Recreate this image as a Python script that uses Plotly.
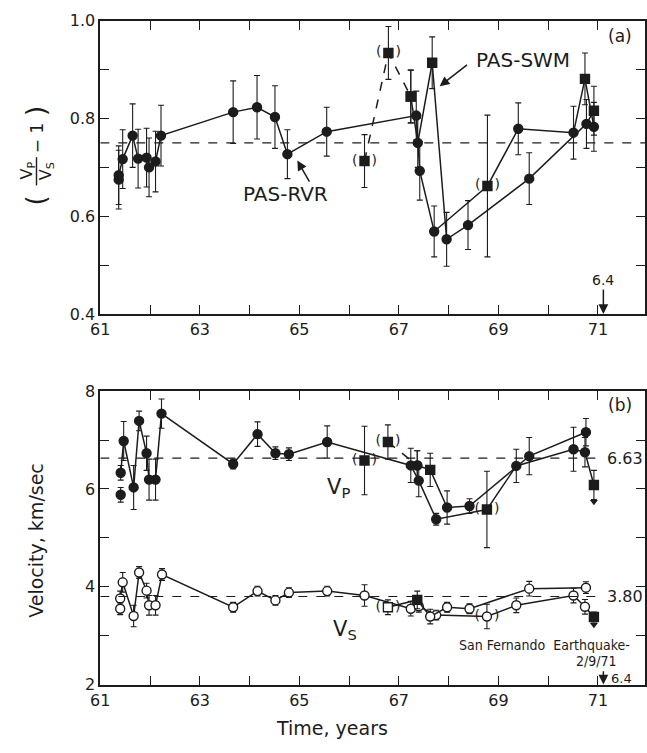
import plotly.graph_objects as go

# ---------------- data: panel (a)  (Vp/Vs - 1) ----------------
rvr_t = [61.37, 61.37, 61.45, 61.65, 61.76, 61.93, 61.98, 62.11, 62.22, 63.67, 64.15,
         64.51, 64.76, 65.55, 67.35, 67.42, 67.71, 68.78, 69.40, 70.51, 70.74, 70.92]
rvr_r = [0.675, 0.684, 0.717, 0.765, 0.718, 0.720, 0.700, 0.712, 0.765, 0.813, 0.823,
         0.803, 0.727, 0.773, 0.806, 0.693, 0.569, 0.662, 0.779, 0.771, 0.881, 0.783]
rvr_e = [0.060, 0.060, 0.060, 0.065, 0.060, 0.060, 0.060, 0.062, 0.062, 0.064, 0.065,
         0.064, 0.050, 0.050, 0.050, 0.060, 0.052, 0.145, 0.053, 0.054, 0.053, 0.050]
rvr_sym = ["circle"] * 17 + ["square", "circle", "circle", "square", "circle"]
rvr_paren = [68.78]

swm_t = [66.31, 66.79, 67.24, 67.38, 67.67, 67.96, 68.39, 69.62, 70.77, 70.92]
swm_r = [0.713, 0.934, 0.845, 0.750, 0.914, 0.553, 0.582, 0.677, 0.789, 0.816]
swm_e = [0.054, 0.054, 0.054, 0.050, 0.053, 0.055, 0.050, 0.053, 0.050, 0.050]
swm_sym = ["square", "square", "square", "circle", "square", "circle", "circle",
           "circle", "circle", "square"]
swm_paren = [66.31, 66.79]
ratio_mean = 0.75

# ---------------- data: panel (b)  velocities ----------------
vp_a_t = [61.41, 61.47, 61.67, 61.78, 61.93, 61.98, 62.11, 62.23, 63.67, 64.16, 64.52,
          64.79, 65.56, 67.24, 67.40, 67.75, 68.77, 69.36, 70.51, 70.74, 70.92]
vp_a = [6.33, 6.98, 6.03, 7.39, 6.73, 6.19, 6.19, 7.54, 6.51, 7.12, 6.73,
        6.71, 6.96, 6.48, 6.17, 5.38, 5.58, 6.47, 6.81, 6.75, 6.08]
vp_a_e = [0.15, 0.40, 0.45, 0.20, 0.35, 0.42, 0.42, 0.30, 0.10, 0.25, 0.13,
          0.13, 0.33, 0.35, 0.33, 0.12, 0.78, 0.34, 0.45, 0.30, 0.30]
vp_a_sym = ["circle"] * 16 + ["square"] + ["circle"] * 3 + ["square"]
vp_extra_t = [61.41, 66.31]
vp_extra = [5.88, 6.58]
vp_extra_e = [0.15, 0.70]

vp_b_t = [66.78, 67.37, 67.63, 67.97, 68.42, 69.62, 70.76]
vp_b = [6.96, 6.48, 6.39, 5.62, 5.65, 6.67, 7.16]
vp_b_e = [0.35, 0.30, 0.34, 0.34, 0.15, 0.38, 0.28]
vp_b_sym = ["square", "circle", "square", "circle", "circle", "circle", "circle"]
vp_paren = [(66.31, 6.58), (66.78, 6.96), (68.77, 5.58)]
vp_mean = 6.63

vs_a_t = [61.40, 61.45, 61.67, 61.78, 61.93, 61.98, 62.11, 62.24, 63.67, 64.16, 64.52,
          64.79, 65.56, 66.31, 67.24, 67.40, 67.75, 68.77, 69.36, 70.51, 70.74, 70.92]
vs_a = [3.76, 4.09, 3.40, 4.29, 3.92, 3.62, 3.62, 4.25, 3.58, 3.91, 3.72,
        3.88, 3.91, 3.82, 3.55, 3.60, 3.42, 3.39, 3.62, 3.82, 3.59, 3.38]
vs_a_e = [0.15, 0.20, 0.22, 0.12, 0.15, 0.20, 0.20, 0.12, 0.10, 0.10, 0.10,
          0.10, 0.10, 0.22, 0.15, 0.12, 0.10, 0.25, 0.15, 0.15, 0.15, 0.10]
vs_a_sym = ["circle-open"] * 21 + ["square"]
vs_extra_t = [61.40]
vs_extra = [3.55]
vs_extra_e = [0.12]

vs_b_t = [66.78, 67.37, 67.63, 67.97, 68.42, 69.62, 70.76]
vs_b = [3.58, 3.73, 3.39, 3.58, 3.55, 3.96, 3.98]
vs_b_e = [0.15, 0.18, 0.15, 0.10, 0.10, 0.15, 0.12]
vs_b_sym = ["square-open", "square", "circle-open", "circle-open", "circle-open",
            "circle-open", "circle-open"]
vs_paren = [(66.78, 3.58), (68.77, 3.39)]
vs_mean = 3.80

# open-ended (lower-bound) points at the end of the record
arrow_t = [70.92, 70.92]
arrow_v = [5.74, 3.22]

quake_t = 71.11
year_ticks = list(range(61, 72))
year_labels = [str(y) if y % 2 == 1 else "" for y in year_ticks]
ratio_ticks = [0.4, 0.5, 0.6, 0.7, 0.8, 0.9, 1.0]
ratio_labels = ["0.4", "", "0.6", "", "0.8", "", "1.0"]
vel_ticks = [2, 3, 4, 5, 6, 7, 8]
vel_labels = ["2", "", "4", "", "6", "", "8"]

INK = "#1c1c1c"
FONT = "DejaVu Sans"
NARROW = "DejaVu Sans Condensed, Liberation Sans Narrow, DejaVu Sans"
W, H = 647, 753
PX_PER_YEAR = 50.7


def px(x):
    return x / W


def py(y):
    return 1 - y / H


fig = go.Figure()


def series(t, v, e, sym, xa, ya, dash="solid", mode="lines+markers"):
    colors = ["white" if s.endswith("open") else INK for s in sym]
    fig.add_trace(go.Scatter(
        x=t, y=v, mode=mode, xaxis=xa, yaxis=ya, showlegend=False,
        line=dict(color=INK, width=1.5, dash=dash),
        marker=dict(symbol=[s.replace("-open", "") for s in sym], size=9,
                    color=colors, line=dict(color=INK, width=1.4)),
        error_y=dict(type="data", array=e, visible=True, color=INK,
                     thickness=1.1, width=3),
    ))


def parens(pts, xa, ya):
    fig.add_trace(go.Scatter(
        x=[p[0] for p in pts], y=[p[1] for p in pts], mode="text",
        text=["(\u2009\u2009\u2009\u2009\u2009)"] * len(pts), xaxis=xa, yaxis=ya,
        textposition="middle center",
        textfont=dict(family=FONT, size=14, color=INK), showlegend=False,
        hoverinfo="skip"))


# ---- panel (a) ----
series(rvr_t, rvr_r, rvr_e, rvr_sym, "x", "y")
series(swm_t[:3], swm_r[:3], swm_e[:3], swm_sym[:3], "x", "y", dash="dash")
series(swm_t[2:], swm_r[2:], swm_e[2:], swm_sym[2:], "x", "y")
parens([(t, swm_r[swm_t.index(t)]) for t in swm_paren] +
       [(t, rvr_r[rvr_t.index(t)]) for t in rvr_paren], "x", "y")

# ---- panel (b) ----
series(vp_a_t, vp_a, vp_a_e, vp_a_sym, "x2", "y2")
series(vp_extra_t, vp_extra, vp_extra_e, ["circle", "square"], "x2", "y2", mode="markers")
series(vp_b_t[:2], vp_b[:2], vp_b_e[:2], vp_b_sym[:2], "x2", "y2", dash="dash")
series(vp_b_t[1:], vp_b[1:], vp_b_e[1:], vp_b_sym[1:], "x2", "y2")
parens(vp_paren, "x2", "y2")

series(vs_a_t, vs_a, vs_a_e, vs_a_sym, "x2", "y2")
series(vs_extra_t, vs_extra, vs_extra_e, ["circle-open"], "x2", "y2", mode="markers")
series(vs_b_t, vs_b, vs_b_e, vs_b_sym, "x2", "y2")
parens(vs_paren, "x2", "y2")

fig.add_trace(go.Scatter(x=arrow_t, y=arrow_v, mode="markers", xaxis="x2", yaxis="y2",
                         marker=dict(symbol="triangle-down", size=7, color=INK),
                         showlegend=False, hoverinfo="skip"))

# ---- mean levels ----
x_end = 61 + (W - 92) / PX_PER_YEAR
fig.add_shape(type="line", xref="x", yref="y", x0=61, x1=x_end, y0=ratio_mean,
              y1=ratio_mean, line=dict(color=INK, width=1.2, dash="dash"))
for m in (vp_mean, vs_mean):
    fig.add_shape(type="line", xref="x2", yref="y2", x0=61, x1=71.05, y0=m, y1=m,
                  line=dict(color=INK, width=1.2, dash="dash"))

axis_common = dict(showline=True, linecolor=INK, linewidth=1.8, ticks="inside",
                   ticklen=9, tickwidth=1.3, tickcolor=INK, mirror="ticks",
                   showgrid=False, zeroline=False,
                   tickfont=dict(family=FONT, size=16, color=INK))

fig.update_layout(
    width=W, height=H, margin=dict(l=0, r=0, t=0, b=0),
    paper_bgcolor="white", plot_bgcolor="white",
    xaxis=dict(domain=[px(92), 1], range=[61, x_end], anchor="y",
               tickvals=year_ticks, ticktext=year_labels, **axis_common),
    yaxis=dict(domain=[py(313), py(12)], range=[0.4, 1.0], anchor="x",
               tickvals=ratio_ticks, ticktext=ratio_labels, **axis_common),
    xaxis2=dict(domain=[px(92), 1], range=[61, x_end], anchor="y2",
                tickvals=year_ticks, ticktext=year_labels, **axis_common),
    yaxis2=dict(domain=[py(693), py(392)], range=[2, 8], anchor="x2",
                tickvals=vel_ticks, ticktext=vel_labels, **axis_common),
)

ann = []


def label(text, x, y, size=16, xref="x", yref="y", angle=0, family=FONT):
    ann.append(dict(text=text, x=x, y=y, xref=xref, yref=yref, showarrow=False,
                    xanchor="center", yanchor="middle", textangle=angle,
                    font=dict(family=family, size=size, color=INK)))


def arrow(x, y, ax, ay, xref="x", yref="y"):
    ann.append(dict(text="", x=x, y=y, ax=ax, ay=ay, xref=xref, yref=yref,
                    axref=xref, ayref=yref, showarrow=True, arrowhead=2,
                    arrowsize=1.3, arrowwidth=1.5, arrowcolor=INK))


# panel (a) labels
label("(a)", 71.45, 0.968, size=17)
label("PAS-SWM", 69.5, 0.92, size=20)
arrow(67.82, 0.866, 68.4, 0.912)
label("PAS-RVR", 64.72, 0.645, size=20)
arrow(64.96, 0.714, 65.22, 0.668)
ann.append(dict(text="6.4", x=quake_t, y=0.40, xref="x", yref="y", ax=0, ay=-34,
                showarrow=True, arrowhead=2, arrowsize=1.3, arrowwidth=1.5,
                arrowcolor=INK, font=dict(family=FONT, size=14, color=INK)))

# panel (b) labels
label("(b)", 71.45, 7.72, size=17, xref="x2", yref="y2")
label("6.63", 71.55, vp_mean, size=16, xref="x2", yref="y2")
label("3.80", 71.55, vs_mean, size=16, xref="x2", yref="y2")
label("V<sub>P</sub>", 65.78, 6.02, size=21, xref="x2", yref="y2")
label("V<sub>S</sub>", 65.92, 3.12, size=21, xref="x2", yref="y2")
label("San Fernando  Earthquake-", 69.93, 2.80, size=14, xref="x2", yref="y2",
      family=NARROW)
label("2/9/71", 70.98, 2.48, size=14, xref="x2", yref="y2", family=NARROW)
arrow(quake_t, 2.0, quake_t, 2.3, xref="x2", yref="y2")
label("6.4", 71.47, 2.13, size=13, xref="x2", yref="y2")

# axis titles
label("Time, years", px(328), py(738), size=19, xref="paper", yref="paper")
label("Velocity, km/sec", px(27), py(545), size=19, xref="paper", yref="paper", angle=-90)

# (Vp / Vs - 1) written as a rotated fraction
label("(", px(27), py(196), size=26, xref="paper", yref="paper", angle=-90)
label("V<sub>P</sub>", px(18), py(166), size=16, xref="paper", yref="paper", angle=-90)
label("V<sub>S</sub>", px(37), py(166), size=16, xref="paper", yref="paper", angle=-90)
label("\u2212 1", px(27), py(132), size=17, xref="paper", yref="paper", angle=-90)
label(")", px(27), py(104), size=26, xref="paper", yref="paper", angle=-90)
fig.add_shape(type="line", xref="paper", yref="paper", x0=px(27), x1=px(27),
              y0=py(152), y1=py(181), line=dict(color=INK, width=1.4))

fig.update_layout(annotations=ann)
fig.write_html("out.html")
